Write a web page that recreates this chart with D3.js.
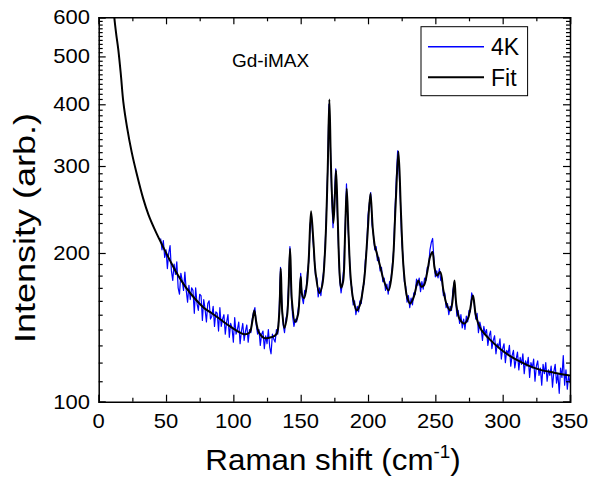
<!DOCTYPE html>
<html>
<head>
<meta charset="utf-8">
<script src="https://cdn.jsdelivr.net/npm/d3@7"></script>
<style>
  body { margin: 0; background: #fff; }
  text { font-family: "Liberation Sans", Arial, sans-serif; fill: #000; }
</style>
</head>
<body>
<svg id="chart" width="591" height="478"></svg>
<script>
// measured 4K spectrum (Raman shift in cm-1, intensity in arb. units)
var shift4K = [
  46, 47, 48, 49, 50, 51, 52, 53, 54, 55, 56, 57, 58, 59, 60, 61, 62, 63, 64, 65,
  66, 67, 68, 69, 70, 71, 72, 73, 74, 75, 76, 77, 78, 79, 80, 81, 82, 83, 84, 85,
  86, 87, 88, 89, 90, 91, 92, 93, 94, 95, 96, 97, 98, 99, 100, 101, 102, 103, 104, 105,
  106, 107, 108, 109, 110, 111, 112, 113, 114, 115, 116, 117, 118, 119, 120, 121, 122, 123, 124, 125,
  126, 127, 128, 129, 130, 131, 132, 133, 134, 135, 136, 137, 138, 139, 140, 141, 142, 143, 144, 145,
  146, 147, 148, 149, 150, 151, 152, 153, 154, 155, 156, 157, 158, 159, 160, 161, 162, 163, 164, 165,
  166, 167, 168, 169, 170, 171, 172, 173, 174, 175, 176, 177, 178, 179, 180, 181, 182, 183, 184, 185,
  186, 187, 188, 189, 190, 191, 192, 193, 194, 195, 196, 197, 198, 199, 200, 201, 202, 203, 204, 205,
  206, 207, 208, 209, 210, 211, 212, 213, 214, 215, 216, 217, 218, 219, 220, 221, 222, 223, 224, 225,
  226, 227, 228, 229, 230, 231, 232, 233, 234, 235, 236, 237, 238, 239, 240, 241, 242, 243, 244, 245,
  246, 247, 248, 249, 250, 251, 252, 253, 254, 255, 256, 257, 258, 259, 260, 261, 262, 263, 264, 265,
  266, 267, 268, 269, 270, 271, 272, 273, 274, 275, 276, 277, 278, 279, 280, 281, 282, 283, 284, 285,
  286, 287, 288, 289, 290, 291, 292, 293, 294, 295, 296, 297, 298, 299, 300, 301, 302, 303, 304, 305,
  306, 307, 308, 309, 310, 311, 312, 313, 314, 315, 316, 317, 318, 319, 320, 321, 322, 323, 324, 325,
  326, 327, 328, 329, 330, 331, 332, 333, 334, 335, 336, 337, 338, 339, 340, 341, 342, 343, 344, 345,
  346, 347, 348, 349, 350
];
var intensity4K = [
  214, 203, 212, 196, 203, 186, 200, 207, 184, 176, 190, 181, 192, 170, 165, 182, 176, 168, 183, 168,
  159, 172, 161, 170, 168, 151, 170, 158, 153, 165, 164, 146, 161, 154, 145, 158, 160, 147, 149, 156,
  142, 152, 151, 139, 155, 142, 147, 150, 137, 145, 150, 135, 144, 141, 132, 148, 137, 140, 145, 131,
  139, 144, 133, 139, 143, 132, 140, 138, 147, 152, 155, 143, 137, 140, 130, 137, 139, 128, 136, 131,
  140, 129, 125, 137, 134, 132, 140, 137, 152, 187, 158, 143, 138, 147, 151, 172, 206, 165, 149, 142,
  147, 145, 153, 160, 182, 163, 158, 168, 167, 183, 192, 228, 238, 215, 197, 180, 178, 163, 170, 164,
  175, 183, 203, 236, 293, 400, 335, 262, 225, 258, 296, 251, 208, 176, 166, 174, 187, 224, 276, 230,
  203, 176, 170, 157, 160, 150, 156, 152, 160, 158, 170, 173, 193, 204, 238, 252, 265, 228, 218, 203,
  206, 193, 196, 184, 187, 175, 178, 168, 173, 165, 175, 176, 188, 202, 243, 282, 322, 296, 258, 212,
  196, 175, 171, 159, 164, 155, 162, 157, 166, 165, 177, 172, 178, 167, 175, 169, 178, 176, 187, 188,
  203, 210, 214, 193, 179, 184, 178, 186, 176, 175, 164, 166, 155, 158, 150, 156, 153, 168, 174, 162,
  149, 153, 144, 150, 141, 147, 140, 149, 145, 153, 152, 166, 162, 157, 147, 151, 138, 145, 141, 133,
  142, 137, 140, 130, 136, 139, 128, 133, 136, 125, 131, 129, 134, 122, 128, 131, 120, 127, 125, 130,
  118, 124, 127, 117, 122, 126, 116, 123, 119, 125, 114, 121, 118, 123, 112, 120, 117, 122, 110, 118,
  121, 113, 117, 108, 119, 114, 120, 110, 116, 113, 118, 107, 115, 119, 109, 114, 104, 117, 112, 124,
  108, 116, 106, 113, 109
];

// fit curve
var fitShift = [
  10, 11.6, 13, 14.6, 16.5, 18.3, 21, 24.5, 28, 33, 37, 42, 47, 53, 59, 65, 72, 78, 84, 90,
  96, 102, 108, 112, 114, 115.6, 117, 119, 123, 128, 132, 134, 135.2, 136.3, 137.9, 140, 142.1, 143.5, 145.8, 148,
  150, 151, 152.5, 154.5, 156, 157.7, 159.5, 161, 163.9, 166, 168, 170, 171.3, 172.5, 174.3, 175.5, 176.3, 177.5, 179, 180,
  181.5, 183, 184.2, 185.5, 187, 189, 191.7, 194, 197, 199.5, 201.8, 203.5, 205, 206.5, 209, 212, 215.2, 218, 220.5, 222.6,
  224.5, 226.5, 229, 231.3, 234, 237.4, 239.5, 241.5, 244, 246, 247.8, 249.5, 251.1, 253.6, 256, 258.5, 261, 262.5, 264.2, 265.5,
  268, 271.6, 274.5, 277.9, 280, 283.3, 290, 298, 305, 313, 320, 328, 338, 350
];
var fitIntensity = [
  690, 600, 555, 515, 458, 404, 360, 320, 291, 258, 239, 222, 208, 193, 180, 170, 161, 155, 151, 147,
  143, 139.5, 137, 138, 145, 153, 145, 138, 134.5, 135, 137, 150, 186, 152, 141, 150, 204, 160, 145, 150,
  179, 165, 162, 172, 195, 243, 210, 183, 166, 172, 200, 290, 409, 300, 230, 265, 294, 235, 180, 170,
  175, 220, 270, 220, 180, 161, 153, 157, 175, 215, 264, 225, 207, 200, 188, 175, 168, 185, 250, 321,
  240, 185, 163, 158, 163, 176, 171, 172, 183, 196, 201, 186, 180, 183, 168, 157, 153, 158, 176, 158,
  147, 144, 148, 164, 150, 141, 134, 128, 124, 120.5, 118, 116, 114.5, 113
];

var xTicks = [0, 50, 100, 150, 200, 250, 300, 350];
var xMinorTicks = [25, 75, 125, 175, 225, 275, 325];
var yTicks = [100, 200, 300, 400, 500, 600];
var yMinorTicks = d3.range(110, 600, 10).filter(v => v % 100 != 0);

var seriesNames = ["4K", "Fit"];
var seriesColors = ["#0000ff", "#000000"];

var plotLeft = 98.7, plotRight = 570, plotTop = 17.3, plotBottom = 401.7;

var svg = d3.select("#chart");

var x = d3.scaleLinear().domain([0, 350]).range([plotLeft, plotRight]);
var y = d3.scaleLog().domain([100, 600]).range([plotBottom, plotTop]);

svg.append("clipPath").attr("id", "plotClip")
    .append("rect")
    .attr("x", plotLeft).attr("y", plotTop)
    .attr("width", plotRight - plotLeft).attr("height", plotBottom - plotTop);

// spectra
var plot = svg.append("g").attr("clip-path", "url(#plotClip)");

var line = d3.line()
    .x(d => x(d[0]))
    .y(d => y(d[1]));

plot.append("path")
    .datum(d3.zip(shift4K, intensity4K))
    .attr("d", line)
    .attr("fill", "none")
    .attr("stroke", seriesColors[0])
    .attr("stroke-width", 1.2)
    .attr("stroke-linejoin", "round");

plot.append("path")
    .datum(d3.zip(fitShift, fitIntensity))
    .attr("d", line.curve(d3.curveCatmullRom.alpha(0.5)))
    .attr("fill", "none")
    .attr("stroke", seriesColors[1])
    .attr("stroke-width", 2);

// axes, ticks pointing inward on all four sides
function tickAxis(axis, scale, major, minor, transform) {
    var g = svg.append("g").attr("transform", transform);
    g.call(axis(scale).tickValues(major).tickSize(-7).tickFormat(""));
    var g2 = svg.append("g").attr("transform", transform);
    g2.call(axis(scale).tickValues(minor).tickSize(-4).tickFormat(""));
    g2.select(".domain").remove();
    return g;
}

tickAxis(d3.axisBottom, x, xTicks, xMinorTicks, "translate(0," + plotBottom + ")");
tickAxis(d3.axisTop, x, xTicks, xMinorTicks, "translate(0," + plotTop + ")");
tickAxis(d3.axisLeft, y, yTicks, yMinorTicks, "translate(" + plotLeft + ",0)");
tickAxis(d3.axisRight, y, yTicks, yMinorTicks, "translate(" + plotRight + ",0)");
svg.selectAll("path.domain").attr("stroke", "#000").attr("stroke-width", 1.5);
svg.selectAll(".tick line").attr("stroke", "#000").attr("stroke-width", 1.2);

// tick labels
svg.append("g").selectAll("text")
    .data(xTicks)
    .enter()
    .append("text")
    .attr("transform", d => "translate(" + x(d) + ",428) scale(1.1,1)")
    .attr("text-anchor", "middle")
    .style("font-size", "20px")
    .text(d => d);

svg.append("g").selectAll("text")
    .data(yTicks)
    .enter()
    .append("text")
    .attr("transform", d => "translate(90," + (y(d) + 7) + ") scale(1.1,1)")
    .attr("text-anchor", "end")
    .style("font-size", "20px")
    .text(d => d);

// axis titles
var xt = svg.append("text")
    .attr("transform", "translate(333,470) scale(1.045,1)")
    .attr("text-anchor", "middle")
    .style("font-size", "30px");
xt.append("tspan").text("Raman shift (cm");
xt.append("tspan").attr("dy", -12).style("font-size", "18px").text("-1");
xt.append("tspan").attr("dy", 12).text(")");

svg.append("text")
    .attr("transform", "translate(35,228) rotate(-90) scale(1.2,1)")
    .attr("text-anchor", "middle")
    .style("font-size", "30px")
    .text("Intensity (arb.)");

svg.append("text")
    .attr("x", 232).attr("y", 67)
    .style("font-size", "19px")
    .text("Gd-iMAX");

// legend
var legend = svg.append("g");
legend.append("rect")
    .attr("x", 421).attr("y", 26.7)
    .attr("width", 106.6).attr("height", 69)
    .attr("fill", "#fff")
    .attr("stroke", "#000")
    .attr("stroke-width", 1);

var legendY = [46.7, 77.3];
seriesNames.forEach(function (name, i) {
    legend.append("line")
        .attr("x1", 428).attr("x2", 484)
        .attr("y1", legendY[i]).attr("y2", legendY[i])
        .attr("stroke", seriesColors[i])
        .attr("stroke-width", i == 0 ? 1.5 : 2);
    legend.append("text")
        .attr("x", 491).attr("y", legendY[i] + 8.5)
        .style("font-size", "23px")
        .text(name);
});
</script>
</body>
</html>
